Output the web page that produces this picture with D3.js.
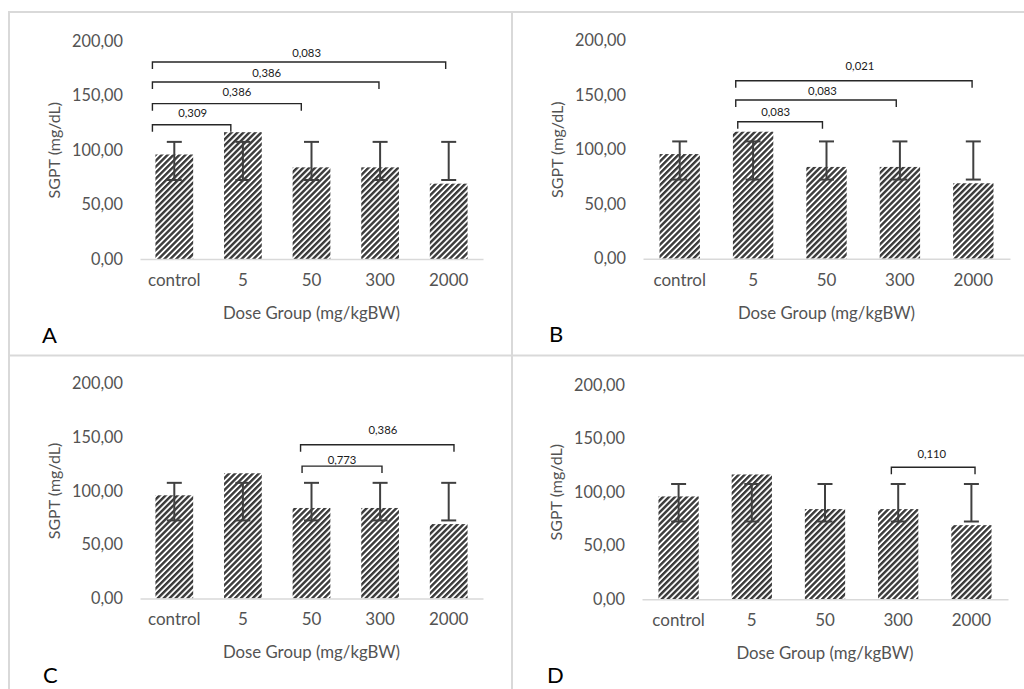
<!DOCTYPE html>
<html>
<head>
<meta charset="utf-8">
<script src="https://cdn.jsdelivr.net/npm/d3@7"></script>
<style>
  html, body { margin: 0; padding: 0; background: #fff; }
  svg { display: block; font-family: Lato, "Open Sans", sans-serif; }
</style>
</head>
<body>
<svg id="chart" width="1024" height="689"></svg>
<script>
// ---------------- DATA ----------------
const categories = ["control", "5", "50", "300", "2000"];
const meanSGPT   = [96.0, 116.5, 84.2, 84.2, 69.2];
const errUpper   = [107.6, 107.6, 107.6, 107.6, 107.6];
const errLower   = [72.6, 72.6, 72.6, 72.6, 72.6];
const yTickValues = [0, 50, 100, 150, 200];
const panelLetters = ["A", "B", "C", "D"];
const xAxisTitle = "Dose Group (mg/kgBW)";
const yAxisTitle = "SGPT (mg/dL)";

// significance brackets (p-values) per panel: from, to, label, bracket level, label level (data units)
const bracketsA = [
  { from: "control", to: "5",    p: "0,309", level: 123.4, labelLevel: 134.0 },
  { from: "control", to: "50",   p: "0,386", level: 142.7, labelLevel: 153.2 },
  { from: "control", to: "300",  p: "0,386", level: 162.6, labelLevel: 170.6 },
  { from: "control", to: "2000", p: "0,083", level: 181.0, labelLevel: 189.0 }
];
const bracketsB = [
  { from: "5", to: "50",   p: "0,083", level: 125.7, labelLevel: 134.9 },
  { from: "5", to: "300",  p: "0,083", level: 145.6, labelLevel: 154.1 },
  { from: "5", to: "2000", p: "0,021", level: 163.3, labelLevel: 177.0 }
];
const bracketsC = [
  { from: "50", to: "300",  p: "0,773", level: 123.2, labelLevel: 128.8 },
  { from: "50", to: "2000", p: "0,386", level: 143.0, labelLevel: 156.6 }
];
const bracketsD = [
  { from: "300", to: "2000", p: "0,110", level: 123.2, labelLevel: 135.6 }
];
const bracketSets = [bracketsA, bracketsB, bracketsC, bracketsD];

// ---------------- LAYOUT (positions / nudges, not data) ----------------
const panels = [
  { x0: 140, x1: 483,  yBase: 259.0, yTop: 41.3,  letterX: 42,  letterY: 343 },
  { x0: 643, x1: 1010, yBase: 258.7, yTop: 40.7,  letterX: 549, letterY: 342 },
  { x0: 140, x1: 483,  yBase: 598.4, yTop: 383.6, letterX: 43,  letterY: 683 },
  { x0: 642, x1: 1008, yBase: 599.3, yTop: 385.0, letterX: 547, letterY: 683 }
];
// bracket end nudges in bandwidth units relative to bar centers; label dx in px
const bracketNudges = [
  [ { s: -0.58, e: -0.32, dx: 1 }, { s: -0.58, e: -0.27, dx: 10 }, { s: -0.58, e: -0.03, dx: 1 }, { s: -0.58, e: -0.08, dx: 7.5 } ],
  [ { s: -0.38, e: -0.10, dx: -4.5 }, { s: -0.43, e: -0.09, dx: 6.5 }, { s: -0.43, e: -0.03, dx: 6 } ],
  [ { s: -0.25, e: 0.05, dx: 0 }, { s: -0.29, e: 0.14, dx: 5.6 } ],
  [ { s: -0.17, e: 0.09, dx: -1.4 } ]
];

const frameColor = "#d9d9d9";
const barColor = "#3a3a3a";
const textGray = "#535353";

const svg = d3.select("#chart");

// hatch pattern (wide upward diagonal)
const defs = svg.append("defs");
const pat = defs.append("pattern")
  .attr("id", "hatch")
  .attr("patternUnits", "userSpaceOnUse")
  .attr("width", 4.2).attr("height", 10)
  .attr("patternTransform", "rotate(45)");
pat.append("rect").attr("width", 4.2).attr("height", 10).attr("fill", "#fff");
pat.append("rect").attr("width", 2.4).attr("height", 10).attr("fill", barColor);

// frame lines
const frame = svg.append("g").attr("stroke", frameColor).attr("stroke-width", 2);
frame.append("line").attr("x1", 9).attr("x2", 9).attr("y1", 12).attr("y2", 689);
frame.append("line").attr("x1", 512).attr("x2", 512).attr("y1", 12).attr("y2", 689);
frame.append("line").attr("x1", 8).attr("x2", 1024).attr("y1", 12).attr("y2", 12);
frame.append("line").attr("x1", 8).attr("x2", 1024).attr("y1", 355.5).attr("y2", 355.5);

const locale = d3.formatLocale({ decimal: ",", thousands: ".", grouping: [3], currency: ["", ""] });
const fmt = locale.format(".2f");

const data = categories.map((c, i) => ({ cat: c, mean: meanSGPT[i], hi: errUpper[i], lo: errLower[i] }));

panels.forEach((P, pi) => {
  const g = svg.append("g");
  const x = d3.scaleBand().domain(categories).range([P.x0, P.x1]).paddingInner(0.45).paddingOuter(0.225);
  const y = d3.scaleLinear().domain([0, 200]).range([P.yBase, P.yTop]);
  const bw = x.bandwidth();
  const cx = c => x(c) + bw / 2;

  // y axis (labels only)
  const yAxis = d3.axisLeft(y).tickValues(yTickValues).tickFormat(fmt).tickSize(0).tickPadding(17);
  const ya = g.append("g").attr("transform", `translate(${P.x0},0)`).call(yAxis);
  ya.select(".domain").remove();
  ya.selectAll("text").attr("fill", textGray).style("font-size", "16.3px").style("font-family", "Lato, sans-serif");

  // bars
  g.selectAll("rect.bar").data(data).join("rect")
    .attr("class", "bar")
    .attr("x", d => x(d.cat))
    .attr("width", bw)
    .attr("y", d => y(d.mean))
    .attr("height", d => y(0) - y(d.mean))
    .attr("fill", "url(#hatch)");

  // x axis
  const xAxis = d3.axisBottom(x).tickSize(0).tickPadding(15);
  const xa = g.append("g").attr("transform", `translate(0,${P.yBase})`).call(xAxis);
  xa.select(".domain").attr("stroke", frameColor).attr("stroke-width", 1.5);
  xa.selectAll("text").attr("fill", textGray).style("font-size", "17px").style("font-family", "Lato, sans-serif");

  // error bars
  const eb = g.append("g").attr("stroke", "#404040").attr("stroke-width", 2).attr("fill", "none");
  eb.selectAll("line.v").data(data).join("line").attr("class", "v")
    .attr("x1", d => cx(d.cat)).attr("x2", d => cx(d.cat))
    .attr("y1", d => y(d.hi)).attr("y2", d => y(d.lo));
  eb.selectAll("line.t").data(data).join("line").attr("class", "t")
    .attr("x1", d => cx(d.cat) - 7.5).attr("x2", d => cx(d.cat) + 7.5)
    .attr("y1", d => y(d.hi)).attr("y2", d => y(d.hi));
  eb.selectAll("line.b").data(data).join("line").attr("class", "b")
    .attr("x1", d => cx(d.cat) - 7.5).attr("x2", d => cx(d.cat) + 7.5)
    .attr("y1", d => y(d.lo)).attr("y2", d => y(d.lo));

  // brackets
  const bg = g.append("g");
  bracketSets[pi].forEach((b, bi) => {
    const n = bracketNudges[pi][bi];
    const xs = cx(b.from) + n.s * bw;
    const xe = cx(b.to) + n.e * bw;
    const yl = y(b.level);
    bg.append("path")
      .attr("d", `M${xs},${yl + 7}V${yl}H${xe}V${yl + 7}`)
      .attr("fill", "none").attr("stroke", "#262626").attr("stroke-width", 1.4);
    bg.append("text")
      .attr("x", (xs + xe) / 2 + n.dx)
      .attr("y", y(b.labelLevel))
      .attr("dy", "0.35em")
      .attr("text-anchor", "middle")
      .attr("fill", "#1a1a1a")
      .style("font-size", "11.3px")
      .text(b.p);
  });

  // axis titles
  g.append("text")
    .attr("x", (P.x0 + P.x1) / 2)
    .attr("y", P.yBase + 54)
    .attr("dy", "0.35em")
    .attr("text-anchor", "middle")
    .attr("fill", textGray)
    .style("font-size", "16.8px")
    .text(xAxisTitle);
  g.append("text")
    .attr("transform", `translate(${P.x0 - 86},${(P.yBase + P.yTop) / 2}) rotate(-90)`)
    .attr("dy", "0.35em")
    .attr("text-anchor", "middle")
    .attr("fill", textGray)
    .style("font-size", "16px")
    .text(yAxisTitle);

  // panel letter
  g.append("text")
    .attr("x", P.letterX)
    .attr("y", P.letterY)
    .attr("fill", "#000")
    .style("font-size", "22px")
    .text(panelLetters[pi]);
});
</script>
</body>
</html>
